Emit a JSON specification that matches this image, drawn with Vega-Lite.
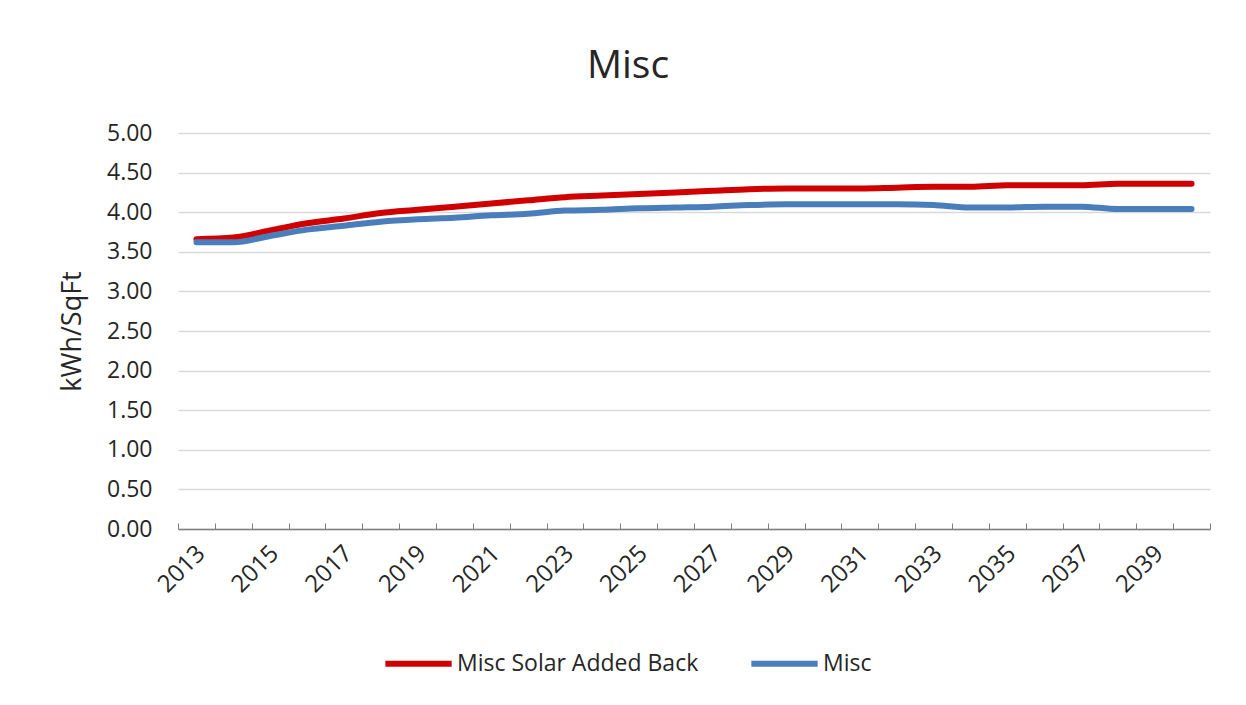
{
  "$schema": "https://vega.github.io/schema/vega-lite/v6.json",
  "autosize": "none",
  "width": 1032,
  "height": 396,
  "padding": {"left": 178, "top": 133, "right": 36, "bottom": 176},
  "background": "white",
  "title": {
    "text": "Misc",
    "anchor": "middle",
    "fontSize": 39,
    "font": "Open Sans",
    "fontWeight": "normal",
    "color": "#262626",
    "offset": 36,
    "dx": -66
  },
  "data": {
    "values": [
      {"year": 2013, "series": "Misc Solar Added Back", "value": 3.66},
      {"year": 2014, "series": "Misc Solar Added Back", "value": 3.68},
      {"year": 2015, "series": "Misc Solar Added Back", "value": 3.77},
      {"year": 2016, "series": "Misc Solar Added Back", "value": 3.86},
      {"year": 2017, "series": "Misc Solar Added Back", "value": 3.92},
      {"year": 2018, "series": "Misc Solar Added Back", "value": 3.99},
      {"year": 2019, "series": "Misc Solar Added Back", "value": 4.03},
      {"year": 2020, "series": "Misc Solar Added Back", "value": 4.07},
      {"year": 2021, "series": "Misc Solar Added Back", "value": 4.11},
      {"year": 2022, "series": "Misc Solar Added Back", "value": 4.15},
      {"year": 2023, "series": "Misc Solar Added Back", "value": 4.19},
      {"year": 2024, "series": "Misc Solar Added Back", "value": 4.21},
      {"year": 2025, "series": "Misc Solar Added Back", "value": 4.23},
      {"year": 2026, "series": "Misc Solar Added Back", "value": 4.25},
      {"year": 2027, "series": "Misc Solar Added Back", "value": 4.27},
      {"year": 2028, "series": "Misc Solar Added Back", "value": 4.29},
      {"year": 2029, "series": "Misc Solar Added Back", "value": 4.30},
      {"year": 2030, "series": "Misc Solar Added Back", "value": 4.30},
      {"year": 2031, "series": "Misc Solar Added Back", "value": 4.30},
      {"year": 2032, "series": "Misc Solar Added Back", "value": 4.31},
      {"year": 2033, "series": "Misc Solar Added Back", "value": 4.32},
      {"year": 2034, "series": "Misc Solar Added Back", "value": 4.32},
      {"year": 2035, "series": "Misc Solar Added Back", "value": 4.34},
      {"year": 2036, "series": "Misc Solar Added Back", "value": 4.34},
      {"year": 2037, "series": "Misc Solar Added Back", "value": 4.34},
      {"year": 2038, "series": "Misc Solar Added Back", "value": 4.36},
      {"year": 2039, "series": "Misc Solar Added Back", "value": 4.36},
      {"year": 2040, "series": "Misc Solar Added Back", "value": 4.36},
      {"year": 2013, "series": "Misc", "value": 3.62},
      {"year": 2014, "series": "Misc", "value": 3.62},
      {"year": 2015, "series": "Misc", "value": 3.70},
      {"year": 2016, "series": "Misc", "value": 3.78},
      {"year": 2017, "series": "Misc", "value": 3.83},
      {"year": 2018, "series": "Misc", "value": 3.88},
      {"year": 2019, "series": "Misc", "value": 3.91},
      {"year": 2020, "series": "Misc", "value": 3.93},
      {"year": 2021, "series": "Misc", "value": 3.96},
      {"year": 2022, "series": "Misc", "value": 3.98},
      {"year": 2023, "series": "Misc", "value": 4.02},
      {"year": 2024, "series": "Misc", "value": 4.03},
      {"year": 2025, "series": "Misc", "value": 4.05},
      {"year": 2026, "series": "Misc", "value": 4.06},
      {"year": 2027, "series": "Misc", "value": 4.07},
      {"year": 2028, "series": "Misc", "value": 4.09},
      {"year": 2029, "series": "Misc", "value": 4.10},
      {"year": 2030, "series": "Misc", "value": 4.10},
      {"year": 2031, "series": "Misc", "value": 4.10},
      {"year": 2032, "series": "Misc", "value": 4.10},
      {"year": 2033, "series": "Misc", "value": 4.09},
      {"year": 2034, "series": "Misc", "value": 4.06},
      {"year": 2035, "series": "Misc", "value": 4.06},
      {"year": 2036, "series": "Misc", "value": 4.07},
      {"year": 2037, "series": "Misc", "value": 4.07},
      {"year": 2038, "series": "Misc", "value": 4.04},
      {"year": 2039, "series": "Misc", "value": 4.04},
      {"year": 2040, "series": "Misc", "value": 4.04}
    ]
  },
  "mark": {"type": "line", "strokeWidth": 6, "interpolate": "monotone", "strokeCap": "round"},
  "encoding": {
    "x": {
      "field": "year",
      "type": "ordinal",
      "bandPosition": 0.5,
      "scale": {"type": "band", "paddingInner": 0, "paddingOuter": 0},
      "axis": {
        "title": null,
        "labelAngle": -45,
        "labelFontSize": 24,
        "labelFont": "Open Sans",
        "labelColor": "#262626",
        "labelExpr": "datum.value % 2 == 1 ? datum.label : ''",
        "tickBand": "extent",
        "ticks": true,
        "tickSize": -6,
        "tickColor": "#7f7f7f",
        "domainColor": "#7f7f7f",
        "domainWidth": 1.5,
        "labelPadding": 18,
        "labelOffset": -4,
        "grid": false
      }
    },
    "y": {
      "field": "value",
      "type": "quantitative",
      "scale": {"domain": [0, 5]},
      "axis": {
        "title": "kWh/SqFt",
        "titleFontSize": 27,
        "titleFont": "Open Sans",
        "titleFontWeight": "normal",
        "titleColor": "#262626",
        "titlePadding": 20,
        "values": [0, 0.5, 1, 1.5, 2, 2.5, 3, 3.5, 4, 4.5, 5],
        "format": ".2f",
        "labelFontSize": 23,
        "labelFont": "Open Sans",
        "labelColor": "#262626",
        "labelPadding": 26,
        "ticks": false,
        "domain": false,
        "grid": true,
        "gridColor": "#d9d9d9",
        "gridWidth": 1.5
      }
    },
    "color": {
      "field": "series",
      "type": "nominal",
      "scale": {"domain": ["Misc Solar Added Back", "Misc"], "range": ["#d00000", "#4a7ebb"]},
      "legend": {
        "title": null,
        "orient": "none",
        "legendX": 204,
        "legendY": 494,
        "direction": "horizontal",
        "symbolType": "stroke",
        "symbolSize": 4400,
        "symbolStrokeWidth": 6,
        "labelFontSize": 23,
        "labelFont": "Open Sans",
        "labelColor": "#262626",
        "labelLimit": 400,
        "labelOffset": 2,
        "columnPadding": 40
      }
    }
  },
  "config": {"view": {"stroke": null}}
}
